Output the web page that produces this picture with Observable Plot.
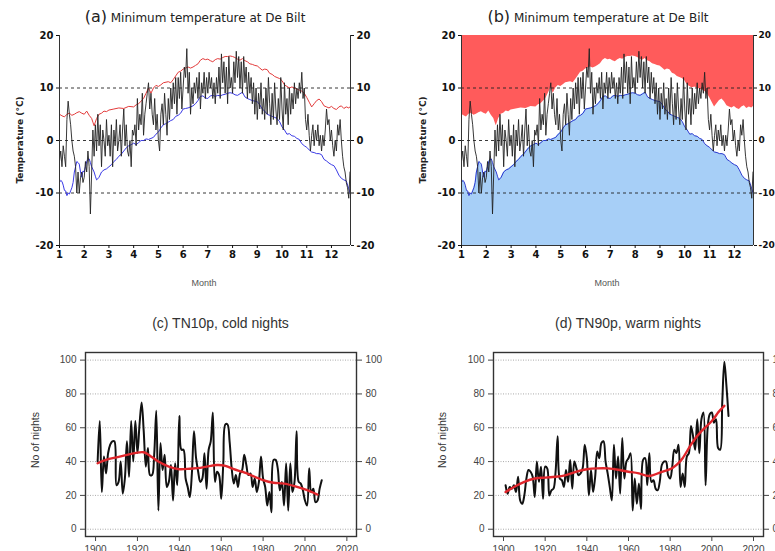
<!DOCTYPE html>
<html>
<head>
<meta charset="utf-8">
<script src="https://cdn.jsdelivr.net/npm/d3@7"></script>
<script src="https://cdn.jsdelivr.net/npm/@observablehq/plot@0.6"></script>
<style>
  body { margin: 0; background: #fff; }
  #wrap { position: relative; width: 775px; height: 551px; overflow: hidden; background: #fff; }
  .abs { position: absolute; white-space: nowrap; }
  .ttl { font-family: "DejaVu Sans", sans-serif; font-size: 12px; color: #222; text-align: center; line-height: 20px; }
  .ttl2 { font-family: "Liberation Sans", Arial, sans-serif; font-size: 14px; color: #333; text-align: center; line-height: 18px; }
  .rot { transform: translate(-50%, -50%) rotate(-90deg); }
  .ylabA { font-family: "DejaVu Sans", sans-serif; font-size: 9px; font-weight: bold; color: #222; }
  .ylabC { font-family: "Liberation Sans", Arial, sans-serif; font-size: 10.5px; color: #333; }
  .xlab { font-family: "Liberation Sans", Arial, sans-serif; font-size: 9px; color: #555; transform: translate(-50%, -50%); }
</style>
</head>
<body>
<div id="wrap"></div>
<script>
// ---------- Panel (a)/(b) data: daily minimum temperature (x in month units) ----------
const tminStart = 1;
const tminStep = 0.05;
const tminJan = [-4,-2,-5,-1,-3,-5,4,7.5,5,3,0,-2,-3,-5,-10,-6,-10,-7,-6,-8];
const tminFeb = [-7,-4,-6,-2,-5,-14,-6,2,-3,3,-2,5,-1,3,-5,2,0,-3,4,-1];
const tminMar = [1,-3,3,-5,2,-1,4,-2,0,3,-3,2,6,-1,3,-2,-3,0,-5,2];
const tminApr = [1,3,-1,8,2,5,3,9,1,5,7,9,11,6,9,5,3,8,2,5];
const tminMay = [0,-2,5,7,3,9,5,1,8,4,10,6,11,7,12,5,12,8,13,6];
const tminJun = [10,14,12,17.5,9,13,5,10,7,11,9,12,8,13,6,11,9,13,8,12];
const tminJul = [9,13,10,12,8,11,7,12,9,14,8,16.5,11,15,9,14,7,16,10,12];
const tminAug = [9,15,11,17,12,16,10,15,9,16,11,14,8,13,9,12,7,11,5,10];
const tminSep = [4,9,6,11,5,8,4,10,5,12,7,3,9,4,11,6,3,8,4,12];
const tminOct = [6,2,11,5,8,3,10,5,9,6,11,7,10,8,11,9,13,8,10,4];
const tminNov = [2,5,1,-2,1,3,-1,2,0,3,-1,1,-2,1,-1,2,6,3,4,0];
const tminDec = [2,-1,-3,0,-2,3,1,4,0,-3,-5,-6,-8,-9,-11,-6];

// 90th percentile (red) [month, °C]
const p90 = [[1.0,5],[1.1,4.7],[1.2,4.5],[1.3,5],[1.4,5.2],[1.5,4.8],[1.6,5],[1.7,5.3],[1.8,5.5],[1.9,5.2],[2.0,5],[2.1,5.6],[2.2,4.8],[2.3,4.2],[2.35,3.5],[2.4,2.8],[2.45,3.5],[2.5,4.2],[2.6,5],[2.7,5.2],[2.8,5.6],[2.9,5.5],[3.0,5.8],[3.2,6],[3.4,6.2],[3.6,6.1],[3.8,6.5],[4.0,6.4],[4.1,6.8],[4.2,7],[4.3,7.5],[4.4,8],[4.5,9],[4.6,10],[4.65,9.5],[4.7,9],[4.8,10],[4.9,10.5],[5.0,10.3],[5.1,10.6],[5.2,11],[5.4,11.2],[5.5,11],[5.6,11.6],[5.7,12.3],[5.8,13],[5.9,13.2],[6.0,13.6],[6.1,13.8],[6.2,14],[6.3,13.8],[6.4,14],[6.5,14.3],[6.6,14.6],[6.7,15.3],[6.8,15.6],[6.9,15.4],[7.0,15.5],[7.1,15.2],[7.2,15],[7.3,15.4],[7.4,15.6],[7.5,15.5],[7.6,15.8],[7.7,16],[7.8,16],[7.9,16.1],[8.0,16],[8.1,15.8],[8.2,15.5],[8.3,15.3],[8.4,15.6],[8.5,15.2],[8.6,15],[8.7,14.6],[8.8,14.5],[8.9,14.3],[9.0,14.2],[9.1,13.8],[9.2,13.4],[9.3,13.6],[9.4,13.5],[9.5,12.8],[9.6,12.6],[9.7,12.2],[9.8,12],[9.9,11.8],[10.0,11.4],[10.1,10.6],[10.2,10.3],[10.3,10],[10.4,10.2],[10.5,10],[10.6,9.8],[10.7,9.6],[10.8,9.4],[10.9,9],[11.0,8.2],[11.1,7.3],[11.2,6.4],[11.3,7],[11.4,7.6],[11.5,7.9],[11.6,7.4],[11.7,6.6],[11.8,6.4],[11.9,6.2],[12.0,6.5],[12.1,6.1],[12.2,5.9],[12.3,6.4],[12.4,6.6],[12.5,6.1],[12.6,6.4],[12.7,6.2],[12.77,6.5]];

// 10th percentile (blue) [month, °C]
const p10 = [[1.0,-8],[1.05,-7.6],[1.1,-7.8],[1.15,-8.5],[1.2,-9.5],[1.25,-9.6],[1.3,-10.5],[1.35,-10],[1.4,-10.2],[1.45,-9.6],[1.5,-9],[1.55,-8],[1.6,-6],[1.65,-5],[1.7,-4],[1.75,-4.2],[1.8,-4.5],[1.85,-6],[1.9,-7],[1.95,-5.8],[2.0,-6],[2.05,-5],[2.1,-4],[2.15,-3.6],[2.2,-3.5],[2.25,-4.2],[2.3,-5],[2.4,-6],[2.45,-6.8],[2.5,-7.5],[2.55,-7.3],[2.6,-7],[2.7,-6],[2.8,-5.6],[2.9,-5.4],[3.0,-5],[3.1,-4.6],[3.2,-4],[3.3,-3.6],[3.4,-3],[3.5,-2.6],[3.6,-2],[3.7,-1.4],[3.8,-1],[3.9,-0.8],[4.0,-0.5],[4.1,-0.8],[4.2,-0.4],[4.3,0],[4.4,0],[4.5,0.3],[4.6,0.2],[4.7,0.4],[4.8,0.6],[4.9,1.2],[5.0,1.6],[5.1,2.4],[5.2,3],[5.3,3.2],[5.4,3.5],[5.5,3.8],[5.6,4],[5.7,4.6],[5.8,4.8],[5.9,5.2],[6.0,6],[6.1,6.1],[6.2,6.2],[6.3,6.4],[6.4,6.6],[6.5,7],[6.6,7.6],[6.7,8.4],[6.8,8.5],[6.9,8.1],[7.0,8],[7.1,8.5],[7.2,8.6],[7.3,8.4],[7.4,8.6],[7.5,8.5],[7.6,8.7],[7.7,8.8],[7.8,9],[7.9,9.1],[8.0,9],[8.1,8.7],[8.2,8.6],[8.3,8.9],[8.4,9.2],[8.5,8.3],[8.6,8],[8.7,7.8],[8.8,7.6],[8.9,7.5],[9.0,7.4],[9.1,6.8],[9.2,6],[9.3,5.6],[9.4,5],[9.5,4.8],[9.6,4.6],[9.7,4.4],[9.8,4.2],[9.9,3.6],[10.0,2.6],[10.1,2],[10.2,1.2],[10.3,1.3],[10.4,0.9],[10.5,0.8],[10.6,0.4],[10.7,0.2],[10.8,-0.6],[10.9,-1],[11.0,-1.3],[11.1,-1.8],[11.2,-2.2],[11.3,-2.3],[11.4,-2.5],[11.5,-2.5],[11.6,-2.7],[11.7,-3.6],[11.8,-3.9],[11.9,-4.3],[12.0,-4.6],[12.1,-4.8],[12.2,-5.6],[12.3,-6.6],[12.4,-7.2],[12.5,-7.5],[12.6,-7.7],[12.7,-9.2],[12.77,-10.2]];

const monthTicks = [1,2,3,4,5,6,7,8,9,10,11,12];
const tempTicks = [-20,-10,0,10,20];
const tempGrid = [-10,0,10];
const monthDomain = [1, 12.77];
const tempDomain = [-20, 20];

// ---------- Panel (c)/(d) data: yearly counts 1901-2008 ----------
const firstYear = 1901;
const tn10p = [40,64,22,43,33,45,50,52,52,26,28,40,21,30,52,31,64,40,64,45,62,75,58,37,48,32,32,44,70,11,51,35,44,25,28,38,17,39,26,67,47,47,30,25,19,33,58,42,34,28,30,45,24,47,52,69,28,34,32,18,39,62,62,52,36,27,32,25,33,35,44,38,32,33,25,30,22,28,43,30,25,14,22,10,41,41,36,23,28,14,39,11,39,22,28,58,28,27,23,17,14,36,22,24,16,17,24,29];
const tn90p = [26,21,25,24,26,22,31,17,15,20,30,35,34,31,19,40,28,37,18,37,36,20,23,24,34,55,30,29,25,35,28,41,24,40,36,32,33,36,50,42,20,35,22,31,46,42,51,52,40,33,25,17,50,30,43,21,54,30,40,42,45,11,30,15,27,12,41,42,26,45,28,29,24,23,28,38,40,40,32,30,37,47,45,50,25,33,25,43,45,61,55,47,65,45,65,69,26,60,68,69,63,65,48,47,75,99,85,67];
const tn10Smooth = [[1901,39],[1905,41],[1910,42.5],[1915,44],[1920,45.3],[1923,45.5],[1926,43.5],[1930,40],[1935,37],[1940,35.5],[1945,35.8],[1950,36.3],[1955,37.5],[1958,38],[1962,37.5],[1966,35.5],[1970,34],[1975,31.5],[1980,29],[1985,27.5],[1990,27],[1995,25.5],[2000,23.5],[2006,20.5]];
const tn90Smooth = [[1901,22],[1905,25],[1910,28],[1915,30],[1920,30.5],[1925,31],[1930,32],[1935,34],[1940,35.5],[1945,36],[1950,36],[1955,35.2],[1960,34],[1965,33],[1970,31.5],[1975,33.5],[1980,35.5],[1983,38],[1986,42],[1990,50],[1995,58],[2000,64],[2003,69],[2006,73]];
const yearTicks = [1900,1920,1940,1960,1980,2000,2020];
const nightTicks = [0,20,40,60,80,100];
const nightDomain = [-4.3, 104.5];

// ---------- build tables ----------
const tminDaily = [].concat(tminJan,tminFeb,tminMar,tminApr,tminMay,tminJun,tminJul,tminAug,tminSep,tminOct,tminNov,tminDec);
const tminData = tminDaily.map((v, i) => ({month: tminStart + i * tminStep, t: v}));
const tn10Data = tn10p.map((v, i) => ({year: firstYear + i, n: v}));
const tn90Data = tn90p.map((v, i) => ({year: firstYear + i, n: v}));

const wrap = document.getElementById("wrap");
function place(el, left, top) {
  el.style.position = "absolute";
  el.style.left = left + "px";
  el.style.top = top + "px";
  wrap.appendChild(el);
}
function addText(html, cls, left, top, width) {
  const d = document.createElement("div");
  d.className = "abs " + cls;
  d.innerHTML = html;
  d.style.left = left + "px";
  d.style.top = top + "px";
  if (width) d.style.width = width + "px";
  wrap.appendChild(d);
}

const fmt = d => String(d);

function tempPanel(shaded) {
  const axStyle = {tickSize: 3, tickPadding: 3, fontWeight: "bold", label: null, tickFormat: fmt};
  return Plot.plot({
    width: 390, height: 290,
    marginLeft: shaded ? 76 : 59, marginRight: shaded ? 22 : 40, marginTop: 35, marginBottom: 45,
    style: {fontFamily: "DejaVu Sans, sans-serif", fontSize: "10px", color: "#111", background: "transparent", overflow: "visible"},
    x: {domain: monthDomain},
    y: {domain: tempDomain},
    marks: [
      shaded ? Plot.areaY(p90, {x: d => d[0], y1: d => d[1], y2: tempDomain[1], fill: "#ff5b5b"}) : null,
      shaded ? Plot.areaY(p10, {x: d => d[0], y1: tempDomain[0], y2: d => d[1], fill: "#a7cff7"}) : null,
      Plot.ruleY(tempGrid, {stroke: "#222", strokeDasharray: "3,3", strokeWidth: 0.9}),
      shaded ? null : Plot.line(p90, {x: d => d[0], y: d => d[1], stroke: "#e33b3b", strokeWidth: 1}),
      Plot.line(p10, {x: d => d[0], y: d => d[1], stroke: shaded ? "#2c3ad0" : "#3a3ae6", strokeWidth: 1}),
      Plot.line(tminData, {x: "month", y: "t", stroke: "#222", strokeWidth: 0.9}),
      Plot.ruleX(monthDomain, {stroke: "#333"}),
      Plot.ruleY([tempDomain[0]], {stroke: "#333"}),
      Plot.axisY(tempTicks, {anchor: "left", ...axStyle}),
      Plot.axisY(tempTicks, shaded
        ? {anchor: "right", ...axStyle, tickPadding: 2, fontSize: 9}
        : {anchor: "right", ...axStyle}),
      Plot.axisX(monthTicks, {anchor: "bottom", tickSize: 3, tickPadding: 2, fontWeight: "bold", label: null, tickFormat: fmt})
    ].filter(Boolean)
  });
}

function nightPanel(data, smooth, mLeft, mRight, domain) {
  const ax = {tickSize: 5, tickPadding: 4, label: null, tickFormat: fmt};
  return Plot.plot({
    width: 390, height: 270,
    marginLeft: mLeft, marginRight: mRight, marginTop: 52, marginBottom: 34,
    style: {fontFamily: "Liberation Sans, Arial, sans-serif", fontSize: "10px", color: "#444", background: "transparent", overflow: "visible"},
    x: {domain},
    y: {domain: nightDomain},
    marks: [
      Plot.ruleY(nightTicks, {stroke: "#aaa", strokeDasharray: "1,1.5", strokeWidth: 1}),
      Plot.line(data, {x: "year", y: "n", stroke: "#111", strokeWidth: 2, curve: "catmull-rom"}),
      Plot.line(smooth, {x: d => d[0], y: d => d[1], stroke: "#e0262c", strokeWidth: 2.4, curve: "natural"}),
      Plot.frame({stroke: "#333", strokeWidth: 1.4}),
      Plot.axisY(nightTicks, {anchor: "left", ...ax}),
      Plot.axisY(nightTicks, {anchor: "right", ...ax}),
      Plot.axisX(yearTicks, {anchor: "bottom", ...ax})
    ]
  });
}

place(tempPanel(false), 0, 0);
place(tempPanel(true), 385, 0);
place(nightPanel(tn10Data, tn10Smooth, 85, 34, [1895.2, 2024.6]), 0, 300);
place(nightPanel(tn90Data, tn90Smooth, 108, 12, [1895.2, 2024.8]), 385, 300);

// titles and labels
addText('<span style="font-size:16px">(a)</span> Minimum temperature at De Bilt', "ttl", 0, 7, 390);
addText('<span style="font-size:16px">(b)</span> Minimum temperature at De Bilt', "ttl", 403, 7, 390);
addText('(c) TN10p, cold nights', "ttl2", 0, 314, 441);
addText('(d) TN90p, warm nights', "ttl2", 385, 314, 486);
addText('Temperature (°C)', "rot ylabA", 20, 140);
addText('Temperature (°C)', "rot ylabA", 423, 140);
addText('Month', "xlab", 204, 283);
addText('Month', "xlab", 607, 283);
addText('No of nights', "rot ylabC", 35, 440);
addText('No of nights', "rot ylabC", 442, 440);
</script>
</body>
</html>
